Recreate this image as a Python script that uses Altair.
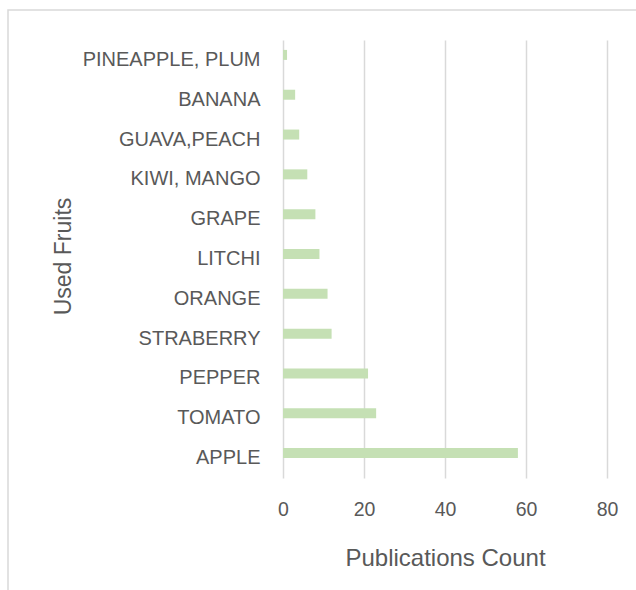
import altair as alt
import pandas as pd

fruits = ["PINEAPPLE, PLUM", "BANANA", "GUAVA,PEACH", "KIWI, MANGO", "GRAPE",
          "LITCHI", "ORANGE", "STRABERRY", "PEPPER", "TOMATO", "APPLE"]
counts = [1, 3, 4, 6, 8, 9, 11, 12, 21, 23, 58]
x_ticks = [0, 20, 40, 60, 80]

df = pd.DataFrame({"fruit": fruits, "count": counts})

FONT = "Liberation Sans"
TXT = "#595959"

bars = alt.Chart(df).mark_bar(color="#c5e0b4", height=10, yOffset=-5).encode(
    x=alt.X("count:Q",
            scale=alt.Scale(domain=[0, 80], nice=False),
            axis=alt.Axis(values=x_ticks, title="Publications Count",
                          grid=True, gridColor="#d9d9d9", gridWidth=1.5,
                          domain=False, ticks=False, tickSize=0,
                          labelFont=FONT, labelFontSize=19.5, labelColor=TXT,
                          labelBaseline="alphabetic", labelPadding=37,
                          labelFlush=False,
                          titleFont=FONT, titleFontSize=24, titleColor=TXT,
                          titleFontWeight="normal",
                          titleX=162, titleY=87, titleBaseline="alphabetic",
                          titleAlign="center")),
    y=alt.Y("fruit:N", sort=fruits,
            scale=alt.Scale(paddingInner=0, paddingOuter=0),
            axis=alt.Axis(title="Used Fruits", grid=False, domain=False,
                          ticks=False, tickSize=0,
                          labelFont=FONT, labelFontSize=20, labelColor=TXT,
                          labelPadding=23, labelLimit=400,
                          titleFont=FONT, titleFontSize=23, titleColor=TXT,
                          titleFontWeight="normal", titleAngle=-90,
                          titleX=-213, titleY=216, titleAlign="center",
                          titleBaseline="alphabetic")),
)

frame = alt.Chart(df).mark_rect(fill=None, stroke="#d9d9d9", strokeWidth=1.5).encode(
    x=alt.value(-275), x2=alt.value(360), y=alt.value(-30), y2=alt.value(560)
).transform_filter(alt.datum.fruit == "APPLE")

chart = alt.layer(frame, bars).properties(
    width=324, height=438,
    autosize=alt.AutoSizeParams(type="none"),
    padding={"left": 283, "top": 40, "right": 29, "bottom": 112},
    background="white",
).configure_view(stroke=None)

chart.save("out.html", embed_options={"renderer": "svg", "actions": False})
